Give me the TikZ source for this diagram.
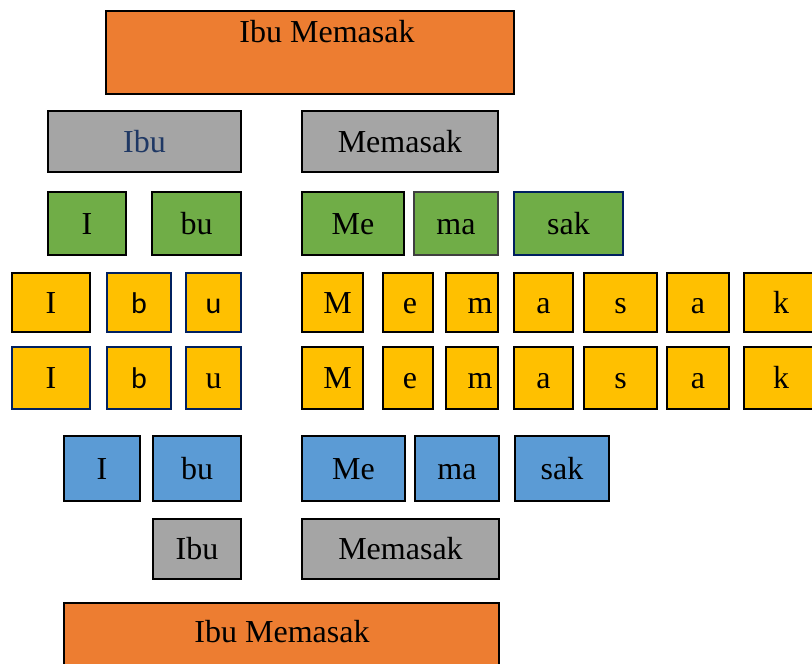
\documentclass[tikz,border=0pt]{standalone}
\usepackage{fontspec}
\setmainfont{Liberation Serif}
\newfontfamily\calib{Carlito}
\definecolor{orng}{HTML}{ED7D31}
\definecolor{gry}{HTML}{A5A5A5}
\definecolor{grn}{HTML}{70AD47}
\definecolor{yel}{HTML}{FFC000}
\definecolor{blu}{HTML}{5B9BD5}
\definecolor{navy}{HTML}{002060}
\definecolor{dkgry}{HTML}{404040}
\definecolor{inkblue}{HTML}{1F3864}
\tikzset{
  cell/.style={draw=black, line width=2.5pt, rectangle, inner sep=0pt, outer sep=0pt,
    font=\fontsize{32}{32}\selectfont, text height=21pt, text depth=0pt},
  nv/.style={draw=navy},
  dg/.style={draw=dkgry},
  sans/.style={font=\calib\fontsize{30}{30}\selectfont},
  lbl/.style={anchor=base, inner sep=0pt, font=\fontsize{32}{32}\selectfont}
}
% name, left, right, top, bottom, style, text
\newcommand\cell[7]{%
  \node[cell,#6,minimum width={#3-#2},minimum height={#5-#4}] (#1)
    at ({(#2+#3)/2},{(#4+#5)/2}) {#7};}
\begin{document}
\begin{tikzpicture}[x=1pt,y=-1pt]
\useasboundingbox (0,0) rectangle (812,664);
% top: whole sentence
\cell{top}{106}{514}{11}{94}{fill=orng}{}
\node[lbl] (toplbl) at (327,42) {Ibu Memasak};
% words
\cell{wIbu}{48}{241}{111}{172}{fill=gry,text=inkblue}{Ibu}
\cell{wMem}{302}{498}{111}{172}{fill=gry}{Memasak}
% syllables
\cell{sI}{48}{126}{192}{255}{fill=grn}{I}
\cell{sbu}{152}{241}{192}{255}{fill=grn}{bu}
\cell{sMe}{302}{404}{192}{255}{fill=grn}{Me}
\cell{sma}{414}{498}{192}{255}{fill=grn,dg}{ma}
\cell{ssak}{514}{623}{192}{255}{fill=grn,nv}{sak}
% letters, first pass
\cell{aI}{12}{90}{273}{332}{fill=yel}{I}
\cell{ab}{107}{171}{273}{332}{fill=yel,nv,sans}{b}
\cell{au}{186}{241}{273}{332}{fill=yel,nv,sans}{u}
\cell{aM}{302}{363}{273}{332}{fill=yel}{\hspace*{10pt}M}
\cell{ae}{383}{433}{273}{332}{fill=yel}{\hspace*{4pt}e}
\cell{am}{446}{498}{273}{332}{fill=yel}{\hspace*{16pt}m}
\cell{aa}{514}{573}{273}{332}{fill=yel}{a}
\cell{as}{584}{657}{273}{332}{fill=yel}{s}
\cell{aa2}{667}{729}{273}{332}{fill=yel}{a}
\cell{ak}{744}{818}{273}{332}{fill=yel}{k}
% letters, second pass
\cell{bI}{12}{90}{347}{409}{fill=yel,nv}{I}
\cell{bb}{107}{171}{347}{409}{fill=yel,nv,sans}{b}
\cell{bu}{186}{241}{347}{409}{fill=yel,nv}{u}
\cell{bM}{302}{363}{347}{409}{fill=yel}{\hspace*{10pt}M}
\cell{be}{383}{433}{347}{409}{fill=yel}{\hspace*{4pt}e}
\cell{bm}{446}{498}{347}{409}{fill=yel}{\hspace*{16pt}m}
\cell{ba}{514}{573}{347}{409}{fill=yel}{a}
\cell{bs}{584}{657}{347}{409}{fill=yel}{s}
\cell{ba2}{667}{729}{347}{409}{fill=yel}{a}
\cell{bk}{744}{818}{347}{409}{fill=yel}{k}
% syllables rebuilt
\cell{cI}{64}{140}{436}{501}{fill=blu}{I}
\cell{cbu}{153}{241}{436}{501}{fill=blu}{bu}
\cell{cMe}{302}{405}{436}{501}{fill=blu}{Me}
\cell{cma}{415}{499}{436}{501}{fill=blu}{ma}
\cell{csak}{515}{609}{436}{501}{fill=blu}{sak}
% words rebuilt
\cell{dIbu}{153}{241}{519}{579}{fill=gry}{Ibu}
\cell{dMem}{302}{499}{519}{579}{fill=gry}{Memasak}
% sentence rebuilt
\cell{bot}{64}{499}{603}{690}{fill=orng}{}
\node[lbl] (botlbl) at (282,642) {Ibu Memasak};
\end{tikzpicture}
\end{document}
